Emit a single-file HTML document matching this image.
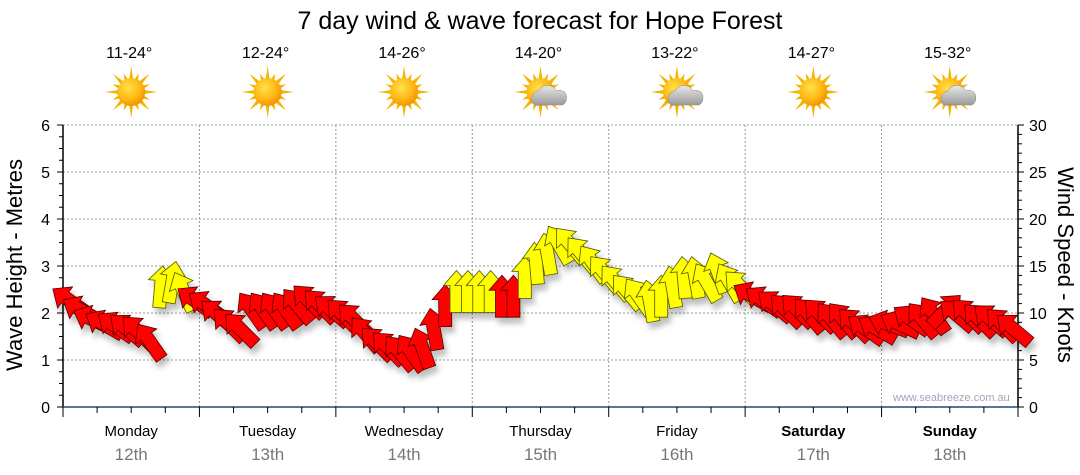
<!DOCTYPE html>
<html><head><meta charset="utf-8"><style>
body{margin:0;background:#fff;font-family:"Liberation Sans",sans-serif}
svg{display:block}
</style></head><body>
<svg id="c" width="1080" height="475" viewBox="0 0 1080 475" xmlns="http://www.w3.org/2000/svg">
<defs>
<radialGradient id="sg" cx="0.4" cy="0.35" r="0.7"><stop offset="0" stop-color="#ffe14a"/><stop offset="0.6" stop-color="#fdb813"/><stop offset="1" stop-color="#f08c00"/></radialGradient>
<linearGradient id="cg" x1="0" y1="0" x2="0" y2="1"><stop offset="0" stop-color="#e8e8e8"/><stop offset="1" stop-color="#9a9a9a"/></linearGradient>
<filter id="sh" x="-50%" y="-50%" width="200%" height="200%"><feGaussianBlur in="SourceAlpha" stdDeviation="3"/><feOffset dx="3" dy="6"/><feComponentTransfer><feFuncA type="linear" slope="0.25"/></feComponentTransfer><feMerge><feMergeNode/><feMergeNode in="SourceGraphic"/></feMerge></filter>
</defs>
<text x="540" y="29" text-anchor="middle" font-size="25">7 day wind &amp; wave forecast for Hope Forest</text>
<g id="grid"></g>
<g id="axes"></g>
<g id="icons"></g>
<g id="arrows" filter="url(#sh)"></g>
<text x="893" y="401" font-size="11" fill="#a0a8b8">www.seabreeze.com.au</text>
<text transform="translate(22,265) rotate(-90)" text-anchor="middle" font-size="22">Wave Height - Metres</text>
<text transform="translate(1058,265) rotate(90)" text-anchor="middle" font-size="22">Wind Speed - Knots</text>
</svg>
<script>
const days=["Monday","Tuesday","Wednesday","Thursday","Friday","Saturday","Sunday"];
const dates=["12th","13th","14th","15th","16th","17th","18th"];
const temps=["11-24°","12-24°","14-26°","14-20°","13-22°","14-27°","15-32°"];
const weather=["sun","sun","sun","cloud","cloud","sun","cloud"];
const waveTicks=[0,1,2,3,4,5,6];
const windTicks=[0,5,10,15,20,25,30];
// wind speed (knots) every 2 hours
const windSpeed=[11.5,10.5,9.5,9,8.8,8.5,8.2,7.2,13,13.5,12.5,11.5,
 11,10,9,8.5,10.5,10.5,10.5,10.5,11,11.5,11,10.5,
 10,9.5,8,7,6.5,6,6,6.5,8.5,11,12.5,12.5,
 12.5,12.5,12,12,14,15.5,16.5,17.5,17.5,16.5,15.5,14.5,
 13.5,12.5,12,11.5,12,13,14,14,13.5,14.5,13.5,13,
 12,11.5,11,10.5,10.5,10,10,9.5,9.5,9,8.5,8.5,
 9,9,9.5,9.5,10,10.5,10,10,9.5,9.5,9,8.5];
// direction arrow points (degrees, 0 = up, negative = left)
const windDir=[-55,-60,-65,-60,-55,-50,-45,-35,5,10,-25,-55,
 -55,-50,-45,-45,-35,-35,-35,-35,-40,-45,-45,-50,
 -45,-45,-40,-45,-45,-40,-35,-20,-10,0,0,0,
 0,0,0,0,0,-5,-10,-30,-40,-40,-35,-40,
 -40,-40,-35,-10,0,-10,-5,-10,-30,-20,-30,-45,
 -60,-55,-50,-45,-45,-40,-45,-40,-40,-45,-55,-60,
 -70,-65,-55,-40,-35,45,-50,-45,-45,-50,-45,-50];
const windCol=["r","r","r","r","r","r","r","r","y","y","y","r",
 "r","r","r","r","r","r","r","r","r","r","r","r",
 "r","r","r","r","r","r","r","r","r","r","y","y",
 "y","y","r","r","y","y","y","y","y","y","y","y",
 "y","y","y","y","y","y","y","y","y","y","y","y",
 "r","r","r","r","r","r","r","r","r","r","r","r",
 "r","r","r","r","r","r","r","r","r","r","r","r"];

const X0=63,X1=1018,YT=125,YB=407,NS="http://www.w3.org/2000/svg";
const dayW=(X1-X0)/7;
const yWave=v=>YB-v*(YB-YT)/6;
const yWind=v=>YB-v*(YB-YT)/30;
const xHour=h=>X0+h*dayW/24;
function mk(tag,at,parent,txt){const e=document.createElementNS(NS,tag);for(const k in at)e.setAttribute(k,at[k]);if(txt!==undefined)e.textContent=txt;document.getElementById(parent).appendChild(e);return e;}

let e;
for(const v of waveTicks){ if(v>0){e=mk("line",{x1:X0,x2:X1,y1:yWave(v),y2:yWave(v),stroke:"#999","stroke-dasharray":"2,2","stroke-width":1},"grid");

}}
for(let d=1;d<7;d++){e=mk("line",{x1:X0+d*dayW,x2:X0+d*dayW,y1:YT,y2:YB,stroke:"#999","stroke-dasharray":"2,2"},"grid");

}
e=mk("line",{x1:X0,x2:X0,y1:YT,y2:YB,stroke:"#000","stroke-width":1.5},"axes");


e=mk("line",{x1:X1,x2:X1,y1:YT,y2:YB,stroke:"#000","stroke-width":1.5},"axes");


e=mk("line",{x1:X0,x2:X1,y1:YB,y2:YB,stroke:"#1a4a7a","stroke-width":1.5},"axes");


for(let i=0;i<=24;i++){const v=i/4,y=yWave(v);mk("line",{x1:X0-(i%4==0?6:4),x2:X0,y1:y,y2:y,stroke:"#000"},"axes");}
for(const v of waveTicks){e=mk("text",{x:X0-13,y:yWave(v)+6,"text-anchor":"end","font-size":16},"axes",v);

}
for(let i=0;i<=30;i++){const y=yWind(i);mk("line",{x1:X1,x2:X1+(i%5==0?6:4),y1:y,y2:y,stroke:"#000"},"axes");}
for(const v of windTicks){e=mk("text",{x:X1+11,y:yWind(v)+6,"font-size":16},"axes",v);

}
for(let i=0;i<=28;i++){const x=X0+i*dayW/4;mk("line",{x1:x,x2:x,y1:YB,y2:YB+(i%4==0?10:6),stroke:"#000"},"axes");}
days.forEach((d,i)=>{const cx=X0+(i+0.5)*dayW;
 e=mk("text",{x:cx,y:436,"text-anchor":"middle","font-size":15,"font-weight":i>=5?"bold":"normal"},"axes",d);
 
 
 e=mk("text",{x:cx,y:460,"text-anchor":"middle","font-size":17,fill:"#777"},"axes",dates[i]);
 
 
 e=mk("text",{x:cx-2,y:58,"text-anchor":"middle","font-size":16},"icons",temps[i]);
 
 
 const g=mk("g",{transform:`translate(${cx},92)`},"icons");
 
 
 let rays="";for(let k=0;k<16;k++){const a=k*Math.PI/8,r=k%2?20:26;const a1=a-0.18,a2=a+0.18;
  rays+=`<polygon points="${(r*Math.sin(a)).toFixed(1)},${(-r*Math.cos(a)).toFixed(1)} ${(12*Math.sin(a1)).toFixed(1)},${(-12*Math.cos(a1)).toFixed(1)} ${(12*Math.sin(a2)).toFixed(1)},${(-12*Math.cos(a2)).toFixed(1)}" fill="#f4b400"/>`;}
 g.innerHTML=rays+`<circle r="14" fill="url(#sg)"/>`+(weather[i]=="cloud"?`<path d="M-6,13 a8,8 0 0 1 4,-14 a10,10 0 0 1 18,0 a7,7 0 0 1 10,7 a7,7 0 0 1 -4,7 z" fill="url(#cg)" stroke="#888" stroke-width="0.5"/>`:"");
});

const shape="0,-21 13,-6 6.5,-6 6.5,21 -6.5,21 -6.5,-6 -13,-6";
windSpeed.forEach((s,i)=>{const x=xHour(i*2)+7,y=yWind(s)+2;
 const p=mk("polygon",{points:shape,transform:`translate(${x.toFixed(1)},${y.toFixed(1)}) rotate(${windDir[i]})`,fill:windCol[i]=="y"?"#ffff00":"#ff0000",stroke:windCol[i]=="y"?"#555500":"#550000","stroke-width":0.8},"arrows");
 
 
});
</script>
</body></html>
